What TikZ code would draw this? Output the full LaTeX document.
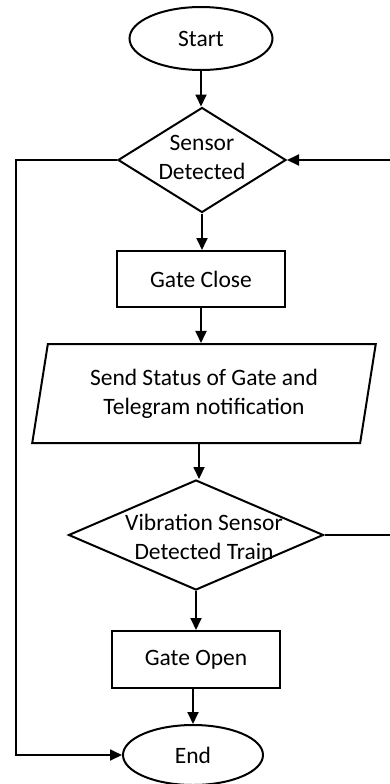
\documentclass[tikz,border=0pt]{standalone}
\usepackage{fontspec}
\setmainfont{Carlito}
\usetikzlibrary{shapes.geometric,arrows.meta}
\begin{document}
\begin{tikzpicture}[x=1pt,y=-1pt,
  every node/.style={font=\fontsize{23.5}{29}\selectfont, inner sep=0pt, align=center},
  term/.style={ellipse, draw, line width=2pt},
  proc/.style={rectangle, draw, line width=2pt},
  dec/.style={diamond, draw, line width=2pt},
  io/.style={trapezium, trapezium left angle=77, trapezium right angle=103, trapezium stretches=true, draw, line width=2pt},
  arr/.style={line width=1.8pt, -{Triangle[length=12pt,width=11pt]}}]
\useasboundingbox (0,0) rectangle (390,784);
\clip (0,0) rectangle (390,784);
\node[term, minimum width=143pt, minimum height=63pt] (start) at (201,38.5) {Start};
\node[dec, minimum width=168pt, minimum height=105pt] (sens) at (202,160) {};
\node (senst) at (202,157) {Sensor\\Detected};
\node[proc, minimum width=168pt, minimum height=56pt] (close) at (201,279) {Gate Close};
\node[io, minimum width=344pt, minimum height=99pt] (send) at (204,393.5) {Send Status of Gate and\\Telegram notification};
\node[dec, minimum width=255pt, minimum height=110pt] (vib) at (196,535) {};
\node (vibt) at (204,537) {Vibration Sensor\\Detected Train};
\node[proc, minimum width=168pt, minimum height=57pt] (open) at (196,659.5) {Gate Open};
\node[term, minimum width=140pt, minimum height=60pt] (end) at (193,755) {End};
\coordinate (lc) at (16,0);
\coordinate (rc) at (396,0);
\draw[arr] (start.south) -- (start.south |- sens.north);
\draw[arr] (sens.south) -- (sens.south |- close.north);
\draw[arr] (close.south) -- (close.south |- send.north);
\draw[arr] ([xshift=-5pt]send.south) -- ([xshift=-5pt]send.south |- vib.north);
\draw[arr] (vib.south) -- (vib.south |- open.north);
\draw[arr] ([xshift=-3pt]open.south) -- ([xshift=-3pt]open.south |- end.north);
\draw[arr] (sens.west) -- (lc |- sens.west) |- (end.west);
\draw[arr] (vib.east) -- (rc |- vib.east) |- (sens.east);
\end{tikzpicture}
\end{document}
